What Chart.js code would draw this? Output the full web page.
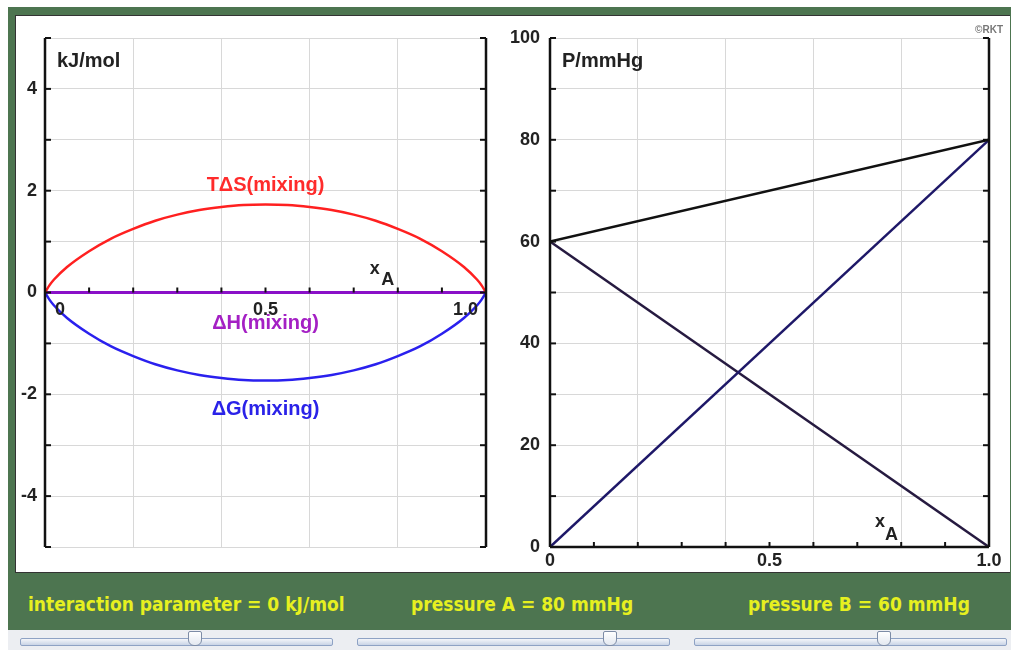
<!DOCTYPE html>
<html>
<head>
  <meta charset="UTF-8">
  <title>Mixing and vapour pressure</title>
  <script src="https://cdn.jsdelivr.net/npm/chart.js"></script>
  <style>
    body { margin: 0; width: 1011px; height: 650px; overflow: hidden; position: relative; background: #fff; font-family: "Liberation Sans", Arial, sans-serif; }
    .frame { position: absolute; left: 8px; top: 7px; width: 1003px; height: 623px; background: #4d7550; }
    .panel { position: absolute; left: 15px; top: 15px; width: 994px; height: 556px; background: #fff; border-top: 1px solid #333; border-left: 1px solid #333; border-bottom: 1px solid #333; }
    canvas { position: absolute; top: 15px; }
    #chartLeft { left: 15px; }
    #chartRight { left: 495px; }
    .ctl { position: absolute; top: 593px; color: #e6f020; font-family: "DejaVu Sans Condensed", "DejaVu Sans", sans-serif; font-stretch: condensed; font-weight: bold; font-size: 19px; white-space: nowrap; }
    .strip { position: absolute; left: 8px; top: 630px; width: 1003px; height: 20px; background: #eceef2; }
    .track { position: absolute; top: 638px; height: 6px; width: 311px; border: 1px solid #8ea2c4; border-radius: 2px; background: linear-gradient(#f4f6fa, #c9d4e6); }
    .thumb { position: absolute; top: 631px; width: 12px; height: 13px; border: 1px solid #7d8ca6; border-radius: 2px 2px 6px 6px; background: linear-gradient(#ffffff, #e3e8f0); }
  </style>
</head>
<body>
  <div class="frame"></div>
  <div class="panel"></div>
  <canvas id="chartLeft" width="480" height="557"></canvas>
  <canvas id="chartRight" width="511" height="557"></canvas>

  <!-- controls -->
  <div class="ctl" style="left:28px">interaction parameter = 0 kJ/mol</div>
  <div class="ctl" style="left:411px">pressure A = 80 mmHg</div>
  <div class="ctl" style="left:748px">pressure B = 60 mmHg</div>
  <div class="strip"></div>
  <div class="track" style="left:20px"></div>
  <div class="track" style="left:357px"></div>
  <div class="track" style="left:694px"></div>
  <div class="thumb" style="left:188px"></div>
  <div class="thumb" style="left:603px"></div>
  <div class="thumb" style="left:877px"></div>

  <script>
    // mole fraction of A (left panel)
    var xMix = [0, 0.01, 0.02, 0.05, 0.1, 0.15, 0.2, 0.25, 0.3, 0.35, 0.4, 0.45, 0.5,
                0.55, 0.6, 0.65, 0.7, 0.75, 0.8, 0.85, 0.9, 0.95, 0.98, 0.99, 1];
    // TΔS(mixing), kJ/mol
    var tdsMix = [0, 0.14, 0.25, 0.50, 0.81, 1.06, 1.25, 1.41, 1.53, 1.62, 1.68, 1.72, 1.73,
                  1.72, 1.68, 1.62, 1.53, 1.41, 1.25, 1.06, 0.81, 0.50, 0.25, 0.14, 0];
    // ΔG(mixing), kJ/mol
    var dgMix = [0, -0.14, -0.25, -0.50, -0.81, -1.06, -1.25, -1.41, -1.53, -1.62, -1.68, -1.72, -1.73,
                 -1.72, -1.68, -1.62, -1.53, -1.41, -1.25, -1.06, -0.81, -0.50, -0.25, -0.14, 0];
    // ΔH(mixing), kJ/mol
    var xEnds = [0, 1];
    var dhMix = [0, 0];

    // right panel: pressures in mmHg at xA = 0 and 1
    var pTotal = [60, 80];
    var pA = [0, 80];
    var pB = [60, 0];

    var leftTicks = [-4, -2, 0, 2, 4];
    var rightTicks = [0, 20, 40, 60, 80, 100];
    var xLabels = { 0: "0", 5: "0.5", 10: "1.0" };

    function pts(xs, ys) {
      return xs.map(function (x, i) { return { x: x, y: ys[i] }; });
    }

    var tickFont = { family: "Liberation Sans", size: 18, weight: "bold" };
    var gridColor = "#d8d8d8";

    function line(ctx, x1, y1, x2, y2) {
      ctx.beginPath(); ctx.moveTo(x1, y1); ctx.lineTo(x2, y2); ctx.stroke();
    }

    // black side axes, inward ticks, minor ticks along the x axis
    var framePlugin = {
      id: "frame",
      afterDatasetsDraw: function (chart, args, o) {
        var ctx = chart.ctx, a = chart.chartArea, x = chart.scales.x, y = chart.scales.y;
        ctx.save();
        ctx.strokeStyle = "#111";
        ctx.lineWidth = 2.5;
        line(ctx, a.left, a.top, a.left, a.bottom);
        line(ctx, a.right, a.top, a.right, a.bottom);
        var by = y.getPixelForValue(o.base);
        if (o.baseLine) line(ctx, a.left, by, a.right, by);
        ctx.lineWidth = 2;
        y.ticks.forEach(function (t) {
          var py = y.getPixelForValue(t.value);
          line(ctx, a.left, py, a.left + 6, py);
          line(ctx, a.right - 6, py, a.right, py);
        });
        for (var i = 1; i < 10; i++) {
          var px = x.getPixelForValue(i / 10);
          line(ctx, px, by, px, by - 5);
        }
        ctx.restore();
      },
      afterDraw: function (chart, args, o) {
        var ctx = chart.ctx, x = chart.scales.x, y = chart.scales.y;
        ctx.save();
        ctx.textBaseline = "middle";
        (o.texts || []).forEach(function (t) {
          ctx.font = "bold " + (t.size || 20) + "px 'Liberation Sans', Arial, sans-serif";
          ctx.fillStyle = t.color || "#222";
          ctx.textAlign = t.align || "center";
          var px = x.getPixelForValue(t.x) + (t.dx || 0);
          var py = y.getPixelForValue(t.y) + (t.dy || 0);
          ctx.fillText(t.text, px, py);
        });
        ctx.restore();
      }
    };

    // Left panel: ΔH, TΔS, ΔG of mixing
    new Chart(document.getElementById("chartLeft"), {
      type: "scatter",
      data: {
        datasets: [
          { label: "TΔS(mixing)", data: pts(xMix, tdsMix), borderColor: "#ff2020", borderWidth: 2.5, showLine: true, pointRadius: 0, cubicInterpolationMode: "monotone" },
          { label: "ΔG(mixing)", data: pts(xMix, dgMix), borderColor: "#2a20ee", borderWidth: 2.5, showLine: true, pointRadius: 0, cubicInterpolationMode: "monotone" },
          { label: "ΔH(mixing)", data: pts(xEnds, dhMix), borderColor: "#8a10c8", borderWidth: 3, showLine: true, pointRadius: 0 }
        ]
      },
      options: {
        responsive: false,
        animation: false,
        events: [],
        layout: { padding: { top: 23, right: 9, bottom: 25, left: 0 } },
        plugins: {
          legend: { display: false },
          tooltip: { enabled: false },
          frame: {
            base: 0,
            baseLine: false,
            texts: [
              { text: "kJ/mol", x: 0, y: 4.53, dx: 12, align: "left" },
              { text: "TΔS(mixing)", x: 0.5, y: 2.1, color: "#ff2b2b" },
              { text: "ΔH(mixing)", x: 0.5, y: -0.6, color: "#a420c4" },
              { text: "ΔG(mixing)", x: 0.5, y: -2.29, color: "#2a22e8" },
              { text: "x", x: 0.748, y: 0.47, size: 18 },
              { text: "A", x: 0.777, y: 0.25, size: 18 },
              { text: "0", x: 0, y: 0, dx: 10, dy: 18, align: "left", size: 18 },
              { text: "0.5", x: 0.5, y: 0, dy: 18, size: 18 },
              { text: "1.0", x: 1, y: 0, dx: -8, dy: 18, align: "right", size: 18 }
            ]
          }
        },
        scales: {
          x: {
            type: "linear", min: 0, max: 1,
            ticks: { display: false, stepSize: 0.2 },
            grid: { color: gridColor, drawTicks: false },
            border: { display: false },
            afterFit: function (s) { s.height = 0; }
          },
          y: {
            min: -5, max: 5,
            ticks: {
              stepSize: 1, autoSkip: false, padding: 8, font: tickFont, color: "#222",
              callback: function (v) { return leftTicks.indexOf(v) >= 0 ? String(v) : ""; }
            },
            grid: { color: gridColor, drawTicks: false },
            border: { display: false },
            afterFit: function (s) { s.width = 30; }
          }
        }
      },
      plugins: [framePlugin]
    });

    // Right panel: vapour pressures
    new Chart(document.getElementById("chartRight"), {
      type: "scatter",
      data: {
        datasets: [
          { label: "P total", data: pts(xEnds, pTotal), borderColor: "#111111", borderWidth: 2.5, showLine: true, pointRadius: 0 },
          { label: "P A", data: pts(xEnds, pA), borderColor: "#1e1868", borderWidth: 2.5, showLine: true, pointRadius: 0 },
          { label: "P B", data: pts(xEnds, pB), borderColor: "#261a40", borderWidth: 2.5, showLine: true, pointRadius: 0 }
        ]
      },
      options: {
        responsive: false,
        animation: false,
        events: [],
        layout: { padding: { top: 23, right: 17, bottom: 0, left: 0 } },
        plugins: {
          legend: { display: false },
          tooltip: { enabled: false },
          frame: {
            base: 0,
            baseLine: true,
            texts: [
              { text: "P/mmHg", x: 0, y: 95.3, dx: 12, align: "left" },
              { text: "x", x: 0.752, y: 4.9, size: 18 },
              { text: "A", x: 0.778, y: 2.4, size: 18 },
              { text: "©RKT", x: 1, y: 100, dx: 14, dy: -8, align: "right", size: 10, color: "#777" }
            ]
          }
        },
        scales: {
          x: {
            type: "linear", min: 0, max: 1,
            ticks: {
              stepSize: 0.1, autoSkip: false, maxRotation: 0, padding: 3, font: tickFont, color: "#222",
              callback: function (v) { var k = Math.round(v * 10); return xLabels[k] || ""; }
            },
            grid: {
              drawTicks: false,
              color: function (c) { return Math.round(c.tick.value * 10) % 2 === 0 ? gridColor : "rgba(0,0,0,0)"; }
            },
            border: { display: false },
            afterFit: function (s) { s.height = 25; }
          },
          y: {
            min: 0, max: 100,
            ticks: {
              stepSize: 10, autoSkip: false, padding: 10, font: tickFont, color: "#222",
              callback: function (v) { return rightTicks.indexOf(v) >= 0 ? String(v) : ""; }
            },
            grid: { color: gridColor, drawTicks: false },
            border: { display: false },
            afterFit: function (s) { s.width = 55; }
          }
        }
      },
      plugins: [framePlugin]
    });
  </script>
</body>
</html>
